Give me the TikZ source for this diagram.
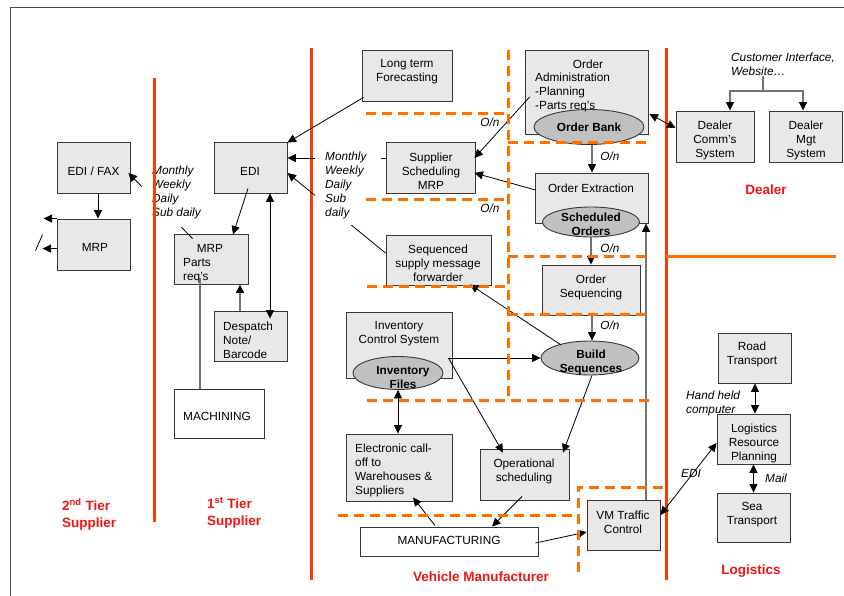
\documentclass[tikz,border=0pt]{standalone}
\usepackage{fontspec}
\setmainfont{Liberation Sans}
\usetikzlibrary{shapes.geometric,arrows.meta,calc}
\definecolor{boxgray}{RGB}{232,232,232}
\definecolor{ellgray}{RGB}{192,192,192}
\definecolor{edgegray}{RGB}{55,55,55}
\definecolor{wallred}{RGB}{255,60,0}
\definecolor{dashorange}{RGB}{255,110,0}
\definecolor{labred}{RGB}{240,20,20}
\newcommand\fs{\fontsize{11.8}{14}\selectfont}
\newcommand\fsl{\fontsize{13.5}{16.5}\selectfont\bfseries}
\newcommand\bx[6][box]{\node[#1, minimum width={#5-#3}, minimum height={#6-#4}] (#2) at ({(#3+#5)/2},{(#4+#6)/2}) {};}
\begin{document}
\begin{tikzpicture}[x=1pt,y=-1pt,
  >={Triangle[length=8.5pt,width=8pt]},
  box/.style={draw=edgegray, fill=boxgray, line width=0.9pt, inner sep=0pt},
  wbox/.style={box, fill=white},
  ell/.style={ellipse, draw=edgegray, fill=ellgray, line width=0.9pt, inner sep=0pt},
  txt/.style={font=\fs, align=center, inner sep=0pt, yshift=-1.5pt},
  ltxt/.style={font=\fs, align=left, inner sep=0pt, anchor=west, yshift=-1.5pt},
  etxt/.style={font=\fs\bfseries, align=center, inner sep=0pt},
  itxt/.style={font=\fs\itshape, align=left, inner sep=0pt},
  conn/.style={draw=black, line width=0.8pt},
  gconn/.style={draw=black!55, line width=1.1pt, >={Triangle[length=8.5pt,width=8pt,color=black]}},
  sect/.style={font=\fsl, text=labred, align=left, inner sep=0pt},
  dashl/.style={draw=dashorange, line width=3pt, dash pattern=on 10pt off 6pt},
  wall/.style={draw=wallred, line width=3pt},
]
\useasboundingbox (0,0) rectangle (844,596);
\fill[white] (0,0) rectangle (844,596);
\draw[draw=black!70, line width=1pt] (10,596) -- (10,8) -- (844,8);

% walls
\draw[wall] (311,48) -- (311,580);
\draw[wall] (666,48) -- (666,580);
\draw[draw=dashorange, line width=3pt] (666,257) -- (836,257);

% boxes
\bx{edifax}{57}{142}{130}{193}
\bx{mrptwo}{57}{219}{130}{270}
\bx{edione}{214}{142}{287}{193}
\bx{mrpone}{174}{234}{248}{284}
\bx{despatch}{214}{311}{287}{361}
\bx[wbox]{machining}{174}{389}{264}{438}
\bx{ltf}{362}{50}{452}{101}
\bx{ssm}{386}{142}{475}{193}
\bx{seq}{386}{235}{491}{285}
\bx{oadmin}{525}{50}{648}{134}
\bx{oext}{535}{173}{648}{223}
\bx{oseq}{542}{265}{640}{315}
\bx{inv}{346}{312}{452}{378}
\bx{ecall}{346}{434}{452}{501}
\bx{opsch}{480}{449}{569}{500}
\bx[wbox]{manuf}{360}{527}{538}{556}
\bx{vmtc}{587}{500}{660}{550}
\bx{dcomm}{676}{111}{754}{162}
\bx{dmgt}{769}{111}{842}{162}
\bx{road}{718}{333}{791}{383}
\bx{lrp}{717}{414}{790}{464}
\bx{sea}{717}{493}{790}{542}

% ellipses
\node[ell, minimum width=110, minimum height=35] (obank) at (589,127) {};
\node[ell, minimum width=97, minimum height=30] (sched) at (591,222) {};
\node[ell, minimum width=98, minimum height=34] (build) at (590,358) {};
\node[ell, minimum width=90, minimum height=33] (invf) at (398,373) {};

% box texts
\node[txt] (edifaxT) at (93.5,170) {EDI / FAX};
\node[txt] (mrptwoT) at (95,246) {MRP};
\node[txt] (edioneT) at (250,170) {EDI};
\node[txt] (mrponeT) at (210,247) {MRP};
\node[ltxt] (mrponeL) at (183,269) {Parts\\req's};
\node[ltxt] (despatchT) at (223,339) {Despatch\\Note/\\Barcode};
\node[txt] (machiningT) at (217,415) {MACHINING};
\node[txt] (ltfT) at (407,70) {Long term\\Forecasting};
\node[txt] (ssmT) at (431,170) {Supplier\\Scheduling\\MRP};
\node[txt] (seqT) at (438,262) {Sequenced\\supply message\\forwarder};
\node[txt] (oadminT) at (588,63) {Order};
\node[ltxt] (oadminL) at (535,91) {Administration\\-Planning\\-Parts req's};
\node[txt] (oextT) at (591,187) {Order Extraction};
\node[txt] (oseqT) at (591,286) {Order\\Sequencing};
\node[txt] (invT) at (399,332) {Inventory\\Control System};
\node[ltxt] (ecallT) at (355,469) {Electronic call-\\off to\\Warehouses \&\\Suppliers};
\node[txt] (opschT) at (524,470) {Operational\\scheduling};
\node[txt] (manufT) at (449,539) {MANUFACTURING};
\node[txt] (vmtcT) at (623,521) {VM Traffic\\Control};
\node[txt] (dcommT) at (715,139) {Dealer\\Comm's\\System};
\node[txt] (dmgtT) at (806,139) {Dealer\\Mgt\\System};
\node[txt] (roadT) at (752,353) {Road\\Transport};
\node[txt] (lrpT) at (754,442) {Logistics\\Resource\\Planning};
\node[txt] (seaT) at (752,513) {Sea\\Transport};

% ellipse texts
\node[etxt] (obankT) at (589,127) {Order Bank};
\node[etxt] (schedT) at (591,224) {Scheduled\\Orders};
\node[etxt] (buildT) at (591,362) {Build\\Sequences};
\node[etxt] (invfT) at (403,377) {Inventory\\Files};

% connectors: 2nd tier
\draw[conn,->] ([shift={(19,5)}]mrpone.north west) -- ([shift={(-2,5.5)}]edifax.east);
\draw[conn,->] ([xshift=4.5pt]edifax.south) -- ([xshift=4.5pt]edifax.south |- mrptwo.north);
\draw[conn,->] (mrptwo.north west) -- ++(-13,0);
\draw[conn,->] ([shift={(0,30)}]mrptwo.north west) -- ++(-14,0);
\draw[conn] ([shift={(-21,32)}]mrptwo.north west) -- ++(7,-16);

% 1st tier
\draw[conn,->] ([shift={(-2.5,-5)}]edione.south) -- ([shift={(22,1)}]mrpone.north);
\draw[gconn,->] ([xshift=-10.5pt]despatch.north) -- ([xshift=-10.5pt]despatch.north |- mrpone.south);
\draw[conn,<->] ([xshift=19.5pt]edione.south) -- ([shift={(19.5,8)}]despatch.north);
\draw[gconn] ([xshift=-19pt]machining.north) -- ([shift={(-11,-6)}]mrpone.south);

% vehicle manufacturer
\draw[conn,->] ([shift={(2,-4)}]ltf.south west) -- ([shift={(0,1)}]edione.north east);
\draw[conn,->] ([shift={(0,-9.5)}]ssm.west) -- ([shift={(0,-9.5)}]edione.east);
\draw[conn,->] ([shift={(0,-7)}]seq.west) -- ([shift={(0,5.5)}]edione.east);
\draw[conn,->] ([shift={(5,5)}]oadmin.west) -- ([shift={(-1,-9.5)}]ssm.east);
\draw[conn,->] ([shift={(1,-8)}]oext.west) -- ([shift={(-1,5.5)}]ssm.east);
\draw[gconn,->] ([xshift=3pt]obank.south) -- ([xshift=3pt]obank.south |- oext.north);
\draw[gconn,->] (sched.south) -- (sched.south |- oseq.north);
\draw[gconn,->] ([xshift=1pt]oseq.south) -- ([xshift=1pt]oseq.south |- build.north);
\draw[gconn,->] ([xshift=22.5pt]vmtc.north) -- ([xshift=22.5pt]vmtc.north |- oext.south);
\draw[conn,<->] ([shift={(1,22)}]oadmin.east) -- ([shift={(0,-8.5)}]dcomm.west);

\draw[conn,->] ([shift={(-29,-13)}]build.center) -- ([shift={(31.5,-1)}]seq.south);
\draw[conn,->] ([shift={(-4,13)}]inv.east) -- (build.west);
\draw[conn,->] ([shift={(-4,13)}]inv.east) -- ([shift={(-21.5,4)}]opsch.north);
\draw[conn,->] ([xshift=2pt]build.south) -- ([shift={(38.5,4)}]opsch.north);
\draw[conn,<->] (invf.south) -- (invf.south |- ecall.north);
\draw[conn,->] ([shift={(-2.5,-4)}]opsch.south) -- ([xshift=43pt]manuf.north);
\draw[conn,->] ([shift={(-14,-1)}]manuf.north) -- ([shift={(14,-4)}]ecall.south);
\draw[conn,->] ([shift={(-3,1.5)}]manuf.east) -- ([shift={(0,7)}]vmtc.west);
\draw[conn,<->] ([shift={(0,-10)}]vmtc.east) -- ([shift={(0,4)}]lrp.west);
\draw[conn,<->] ([xshift=0.5pt]road.south) -- ([xshift=0.5pt]road.south |- lrp.north);
\draw[conn,<->] (lrp.south) -- (lrp.south |- sea.north);

% dealer tree
\node[itxt, anchor=west] (cust) at (731,64.5) {Customer Interface,\\Website\dots};
\coordinate (fork) at (763,91);
\draw[gconn] (fork |- cust.south) -- (fork);
\draw[gconn,->] (fork) -| ([xshift=15pt]dcomm.north);
\draw[gconn,->] (fork) -| ([xshift=-2.5pt]dmgt.north);

% frequency labels (white backed)
\node[itxt, fill=white, anchor=north west, inner xsep=10pt, inner ysep=8pt] (freqtwo) at (142,158) {Monthly\\Weekly\\Daily\\Sub daily};
\node[itxt, fill=white, anchor=north west, inner xsep=10pt, inner ysep=6pt, text width=46pt] (freqone) at (315,145.5) {Monthly\\Weekly\\Daily\\Sub\\daily};

\draw[wall] (154,78) -- (154,522);

% dashed separators
\draw[dashl] (508,50) -- (508,400);
\draw[dashl] (366,114) -- (508,114);
\draw[dashl] (366,200) -- (508,200);
\draw[dashl] (367,287) -- (508,287);
\draw[dashl] (508,143) -- (652,143);
\draw[dashl] (508,257) -- (652,257);
\draw[dashl] (508,315) -- (652,315);
\draw[dashl] (367,400) -- (652,400);
\draw[dashl] (338,515) -- (578,515);
\draw[dashl] (578,572) -- (578,487) -- (666,487);

% small labels
\node[itxt] (on1) at (490,122) {O/n};
\node[itxt] (on2) at (490,208) {O/n};
\node[itxt] (on3) at (610,156) {O/n};
\node[itxt] (on4) at (610,248) {O/n};
\node[itxt] (on5) at (610,325) {O/n};
\node[itxt, anchor=west] (hand) at (686,403.5) {Hand held\\computer};
\node[itxt] (edilbl) at (691,473) {EDI};
\node[itxt] (mail) at (776,478) {Mail};

% section labels
\node[sect, anchor=west] (tiertwo) at (62,514.5) {2\textsuperscript{nd} Tier\\Supplier};
\node[sect, anchor=west] (tierone) at (207,512.5) {1\textsuperscript{st} Tier\\Supplier};
\node[sect] (dealer) at (766,190) {Dealer};
\node[sect] (vmlbl) at (481,577) {Vehicle Manufacturer};
\node[sect] (logi) at (751,571) {Logistics};
\end{tikzpicture}
\end{document}
